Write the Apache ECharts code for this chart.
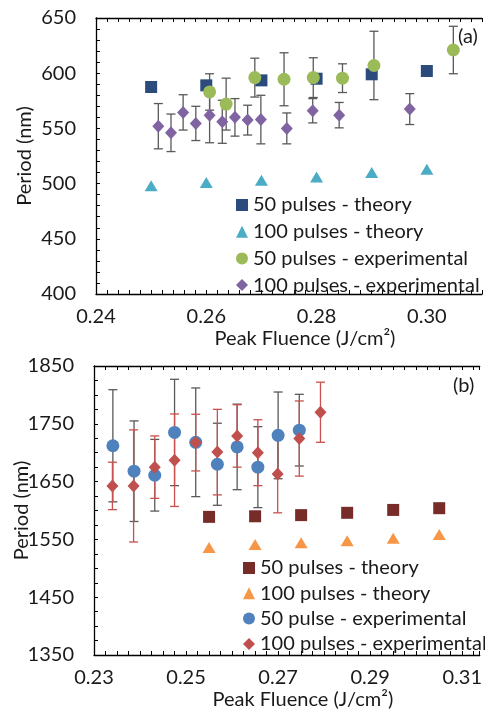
<!DOCTYPE html>
<html><head><meta charset="utf-8">
<script src="https://cdn.jsdelivr.net/npm/echarts@6/dist/echarts.min.js"></script>
<style>html,body{margin:0;padding:0;background:#fff}#c{width:485px;height:713px}</style>
</head><body><div id="c"></div>
<script>
// ---------- Panel (a) ----------
const theoryFluenceA = [0.25, 0.26, 0.27, 0.28, 0.29, 0.30];
const theory50A = [587.5, 589, 593.5, 595, 599, 602];
const theory100A = [498, 501, 503, 506, 510, 513];
const exp50FluenceA = [0.2606, 0.2636, 0.2688, 0.2741, 0.2794, 0.2847, 0.2904, 0.3048];
const exp50A = [583, 572, 596, 594.5, 596, 595.5, 607, 621];
const exp50ErrA = [16.5, 23.5, 17.6, 24, 18, 13, 31, 21.5];
const exp100FluenceA = [0.2513, 0.2536, 0.2558, 0.2581, 0.2606, 0.2629, 0.2652, 0.2675, 0.2699, 0.2746, 0.2793, 0.2841, 0.2969];
const exp100A = [552, 546, 564.5, 554.5, 562, 556, 560, 557.5, 558, 550, 566, 562, 567.5];
const exp100ErrA = [20.5, 17, 16, 15.5, 25, 19.5, 17, 13.5, 22, 14, 11, 11.5, 14];
const namesA = ['50 pulses - theory', '100 pulses - theory', '50 pulses - experimental', '100 pulses - experimental'];

// ---------- Panel (b) ----------
const theoryFluenceB = [0.255, 0.265, 0.275, 0.285, 0.295, 0.305];
const theory50B = [1589, 1590, 1592, 1596, 1601, 1604];
const theory100B = [1536, 1541, 1544, 1547.5, 1552, 1558.5];
const exp50FluenceB = [0.2341, 0.2387, 0.2432, 0.2475, 0.2521, 0.2568, 0.2611, 0.2656, 0.2700, 0.2746];
const exp50B = [1712, 1668, 1661, 1735, 1718, 1680, 1710, 1675, 1730, 1739];
const exp50ErrB = [97, 87, 62, 92, 94, 71, 74, 70, 75, 62];
const exp100FluenceB = [0.2340, 0.2386, 0.2432, 0.2475, 0.2521, 0.2568, 0.2611, 0.2656, 0.2699, 0.2746, 0.2792];
const exp100B = [1642.5, 1642.5, 1675, 1687, 1717.5, 1701, 1729, 1700, 1663, 1724.5, 1770];
const exp100ErrB = [41, 97, 54, 80, 49, 74, 54, 57, 67, 65, 52];
const namesB = ['50 pulses - theory', '100 pulses - theory', '50 pulse - experimental', '100 pulses - experimental'];

const xTitle = 'Peak Fluence (J/cm\u00B2)';
const yTitle = 'Period (nm)';

const FONT = 'Lato';
const TXT = '#1a1a1a';
const FS = 20;

function zip(xs, ys) { return xs.map((x, i) => [x, ys[i]]); }
function zip3(xs, ys, es) { return xs.map((x, i) => [x, ys[i], es[i]]); }
const tagA = ' (a)', tagB = ' (b)';

function xAxisCfg(grid, min, max, step, every, bottom) {
  return {
    type: 'value', gridIndex: grid, min: min, max: max, interval: step,
    position: bottom ? 'bottom' : 'top',
    name: bottom ? xTitle : '', nameLocation: 'middle', nameGap: 35,
    nameTextStyle: { fontFamily: FONT, fontSize: FS, color: TXT, padding: [0, 0, 0, 32] },
    axisLine: { show: true, lineStyle: { color: '#000', width: 1.3 } },
    axisTick: { show: true, inside: true, length: 4, interval: 0, lineStyle: { color: '#000', width: 1 } },
    axisLabel: {
      show: bottom, interval: 0, margin: 13, fontFamily: FONT, fontSize: FS, color: TXT,
      showMinLabel: true, hideOverlap: false,
      formatter: v => (Math.round((v - min) / step) % every === 0 && v <= max - step / 2 + 1e-9) ? v.toFixed(2) : ''
    },
    splitLine: { show: false }
  };
}
function yAxisCfg(grid, min, max, step, every, gap) {
  return {
    type: 'value', gridIndex: grid, min: min, max: max, interval: step,
    name: yTitle, nameLocation: 'middle', nameGap: gap, nameMoveOverlap: false,
    nameTextStyle: { fontFamily: FONT, fontSize: FS, color: TXT },
    axisLine: { show: true, lineStyle: { color: '#000', width: 1.3 } },
    axisTick: { show: true, inside: true, length: 4, interval: 0, lineStyle: { color: '#000', width: 1 } },
    axisLabel: {
      interval: 0, margin: 20, fontFamily: FONT, fontSize: FS, color: TXT,
      showMinLabel: true, showMaxLabel: true, hideOverlap: false,
      formatter: v => (Math.round((v - min) / step) % every === 0) ? String(v) : ''
    },
    splitLine: { show: false }
  };
}
function errSeries(name, data, color, xi, yi) {
  return {
    name: name, type: 'custom', coordinateSystem: 'cartesian2d', xAxisIndex: xi, yAxisIndex: yi,
    encode: { x: 0, y: 1 }, data: data, silent: true, z: 2,
    renderItem: function (params, api) {
      const x = api.value(0), y = api.value(1), e = api.value(2);
      const t = api.coord([x, y + e]), b = api.coord([x, y - e]);
      const hw = 4.5, st = { stroke: color, lineWidth: 1.3 };
      return { type: 'group', children: [
        { type: 'line', shape: { x1: t[0], y1: t[1], x2: b[0], y2: b[1] }, style: st },
        { type: 'line', shape: { x1: t[0] - hw, y1: t[1], x2: t[0] + hw, y2: t[1] }, style: st },
        { type: 'line', shape: { x1: b[0] - hw, y1: b[1], x2: b[0] + hw, y2: b[1] }, style: st }
      ] };
    }
  };
}
function scat(name, data, symbol, size, color, xi, yi) {
  return { name: name, type: 'scatter', xAxisIndex: xi, yAxisIndex: yi, data: data,
    symbol: symbol, symbolSize: size, itemStyle: { color: color, opacity: 1 }, z: 3 };
}

const chart = echarts.init(document.getElementById('c'), null, { renderer: 'canvas' });
chart.setOption({
  animation: false,
  backgroundColor: '#fff',
  grid: [
    { left: 96, top: 18, right: 0, height: 276 },
    { left: 94, top: 366, right: 0, height: 289 }
  ],
  xAxis: [
    xAxisCfg(0, 0.24, 0.31, 0.002, 10, true),
    xAxisCfg(0, 0.24, 0.31, 0.002, 10, false),
    xAxisCfg(1, 0.23, 0.3138, 0.0025, 8, true),
    xAxisCfg(1, 0.23, 0.3138, 0.0025, 8, false)
  ],
  yAxis: [
    yAxisCfg(0, 400, 650, 10, 5, 61),
    yAxisCfg(1, 1350, 1850, 25, 4, 62)
  ],
  legend: [
    { orient: 'vertical', left: 231, top: 190, itemWidth: 12, itemHeight: 12, itemGap: 6.7,
      data: namesA.map(n => n + tagA), formatter: n => n.replace(tagA, ''),
      textStyle: { fontFamily: FONT, fontSize: FS, color: TXT, lineHeight: 20 } },
    { orient: 'vertical', left: 238, top: 553, itemWidth: 12, itemHeight: 12, itemGap: 5.3,
      data: namesB.map(n => n + tagB), formatter: n => n.replace(tagB, ''),
      textStyle: { fontFamily: FONT, fontSize: FS, color: TXT, lineHeight: 20 } }
  ],
  graphic: [
    { type: 'text', left: 458, top: 27, style: { text: '(a)', fontFamily: FONT, fontSize: FS, fill: TXT } },
    { type: 'text', left: 453, top: 376, style: { text: '(b)', fontFamily: FONT, fontSize: FS, fill: TXT } }
  ],
  series: [
    scat(namesA[0] + tagA, zip(theoryFluenceA, theory50A), 'rect', 12, '#2a4b7c', 0, 0),
    scat(namesA[1] + tagA, zip(theoryFluenceA, theory100A), 'triangle', [13, 11], '#4bacc6', 0, 0),
    errSeries('errA50', zip3(exp50FluenceA, exp50A, exp50ErrA), '#595959', 0, 0),
    scat(namesA[2] + tagA, zip(exp50FluenceA, exp50A), 'circle', 13, '#9bbb59', 0, 0),
    errSeries('errA100', zip3(exp100FluenceA, exp100A, exp100ErrA), '#595959', 0, 0),
    scat(namesA[3] + tagA, zip(exp100FluenceA, exp100A), 'diamond', [12, 13], '#8064a2', 0, 0),

    scat(namesB[0] + tagB, zip(theoryFluenceB, theory50B), 'rect', 12, '#772c2a', 2, 1),
    scat(namesB[1] + tagB, zip(theoryFluenceB, theory100B), 'triangle', [13, 11], '#f79646', 2, 1),
    errSeries('errB50', zip3(exp50FluenceB, exp50B, exp50ErrB), '#595959', 2, 1),
    scat(namesB[2] + tagB, zip(exp50FluenceB, exp50B), 'circle', 13, '#4f81bd', 2, 1),
    errSeries('errB100', zip3(exp100FluenceB, exp100B, exp100ErrB), '#c9504d', 2, 1),
    scat(namesB[3] + tagB, zip(exp100FluenceB, exp100B), 'diamond', [12, 13], '#c0504d', 2, 1)
  ]
});
</script>
</body></html>
